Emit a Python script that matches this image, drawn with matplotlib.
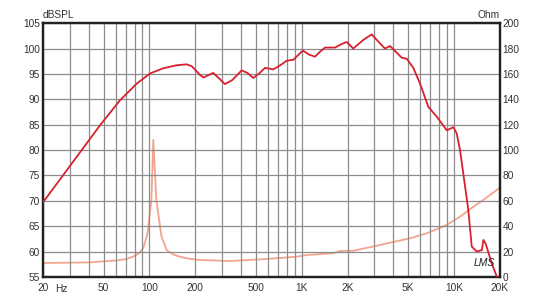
import numpy as np
import matplotlib.pyplot as plt
from matplotlib.ticker import FixedLocator, NullFormatter

plt.rcParams['font.family'] = ['Liberation Sans', 'DejaVu Sans']

# SPL response (dB)
spl_freq = [20, 37.8, 47.4, 64, 82.5, 101, 122.7, 150, 175, 190, 215, 226, 245,
            262, 285, 313, 350, 403, 440, 481, 530, 574, 650, 730, 796, 881,
            1015, 1120, 1222, 1320, 1422, 1653, 1800, 1973, 2179, 2535, 2880,
            3266, 3520, 3800, 4200, 4530, 4890, 5400, 5975, 6780, 7690, 8950,
            9890, 10400, 10940, 12400, 13060, 14090, 15210, 15570, 16100,
            17670, 19000, 20000]
spl_db = [69.7, 80.9, 84.9, 89.8, 93.1, 95.1, 96.1, 96.7, 96.9, 96.5, 94.8, 94.3,
          94.8, 95.2, 94.2, 93.0, 93.8, 95.7, 95.2, 94.2, 95.2, 96.2, 95.9,
          96.8, 97.6, 97.8, 99.6, 98.8, 98.4, 99.4, 100.2, 100.2, 100.8, 101.3,
          100.0, 101.7, 102.8, 101.0, 100.0, 100.5, 99.2, 98.2, 98.0, 96.2,
          93.1, 88.5, 86.6, 83.9, 84.5, 83.3, 80, 68.2, 61.0, 60.0, 60.3, 62.3,
          61.6, 57.7, 55.2, 54.5]

# impedance (Ohm)
imp_freq = [20, 40, 60, 70, 78, 85, 91, 97, 103, 106, 111, 120, 130, 145, 158,
            180, 215, 338, 560, 927, 1077, 1611, 1783, 2179, 2410, 3266, 3614,
            5140, 6610, 8950, 10940, 13390, 16100, 19300, 20000]
imp_ohm = [11, 11.5, 13, 14, 16, 18.5, 22.6, 34, 60.6, 108, 60.6, 31.7, 21,
           17.5, 16, 14.5, 13.4, 12.6, 14, 16, 17.3, 18.7, 20.5, 20.7, 21.8,
           25.2, 26.5, 30.5, 34.4, 41, 47.5, 55.4, 62, 69, 70.5]

left_ticks = [55, 60, 65, 70, 75, 80, 85, 90, 95, 100, 105]
right_ticks = [0, 20, 40, 60, 80, 100, 120, 140, 160, 180, 200]
x_ticks = [20, 50, 100, 200, 500, 1000, 2000, 5000, 10000, 20000]
x_labels = ['20', '50', '100', '200', '500', '1K', '2K', '5K', '10K', '20K']

grid_freqs = []
for dec in [10, 100, 1000, 10000]:
    for m in range(1, 10):
        f = m * dec
        if 20 <= f <= 20000:
            grid_freqs.append(f)
grid_freqs.append(20000)

fig = plt.figure(figsize=(5.44, 3.0), dpi=100)
ax = fig.add_axes([0.079, 0.0767, 0.84, 0.846])
ax.set_xscale('log')
ax.set_xlim(20, 20000)
ax.set_ylim(55, 105)

gc = '#8c8c8c'
for f in grid_freqs:
    ax.axvline(f, color=gc, lw=0.9, zorder=0)
for t in left_ticks:
    ax.axhline(t, color=gc, lw=0.9, zorder=0)

ax2 = ax.twinx()
ax2.set_ylim(0, 200)
ax2.plot(imp_freq, imp_ohm, color='#f2a58c', lw=1.3, zorder=2)
ax.set_zorder(ax2.get_zorder() + 1)
ax.patch.set_visible(False)
ax.plot(spl_freq, spl_db, color='#d8202e', lw=1.3, clip_on=True, zorder=3)

ax.xaxis.set_major_locator(FixedLocator(x_ticks))
ax.xaxis.set_minor_formatter(NullFormatter())
ax.xaxis.set_minor_locator(FixedLocator([]))
ax.set_xticklabels(x_labels)
ax.set_yticks(left_ticks)
ax2.set_yticks(right_ticks)

for a in (ax, ax2):
    a.tick_params(length=0, labelsize=7.3, pad=2, colors='#333333')
    for s in a.spines.values():
        s.set_color('#222222')
        s.set_linewidth(1.6)
ax.tick_params(axis='x', pad=4.5)

fig.text(0.079, 0.935, 'dBSPL', fontsize=7.3, color='#333333', ha='left', va='bottom')
fig.text(0.919, 0.935, 'Ohm', fontsize=7.3, color='#333333', ha='right', va='bottom')
fig.text(0.112, 0.0267, 'Hz', fontsize=7.3, color='#333333', ha='center', va='baseline')
ax.text(15800, 57.8, 'LMS', fontsize=7.5, style='italic', color='#222222', ha='center', va='center')

fig.savefig('out.png', dpi=100)
